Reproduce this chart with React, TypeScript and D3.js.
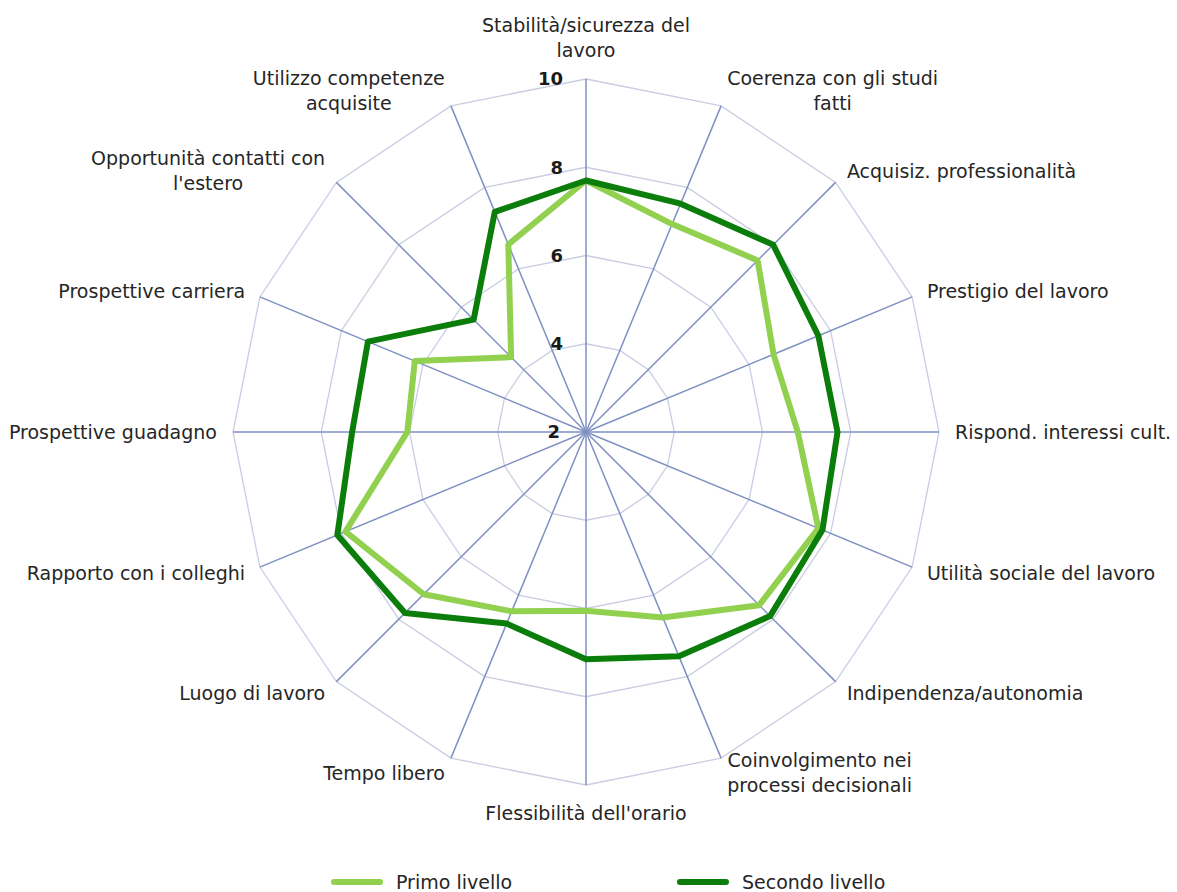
import { useRef, useEffect } from 'react';
import * as d3 from 'd3';

// axis labels, clockwise from the top (line breaks as in the original)
const categories: string[][] = [
  ['Stabilità/sicurezza del', 'lavoro'],
  ['Coerenza con gli studi', 'fatti'],
  ['Acquisiz. professionalità'],
  ['Prestigio del lavoro'],
  ['Rispond. interessi cult.'],
  ['Utilità sociale del lavoro'],
  ['Indipendenza/autonomia'],
  ['Coinvolgimento nei', 'processi decisionali'],
  ["Flessibilità dell'orario"],
  ['Tempo libero'],
  ['Luogo di lavoro'],
  ['Rapporto con i colleghi'],
  ['Prospettive guadagno'],
  ['Prospettive carriera'],
  ["Opportunità contatti con", "l'estero"],
  ['Utilizzo competenze', 'acquisite'],
];

const primoLivello = [7.7, 7.1, 7.5, 6.6, 6.8, 7.7, 7.55, 6.55, 6.05, 6.4, 7.2, 7.9, 6.05, 6.2, 4.4, 6.6];
const secondoLivello = [7.7, 7.6, 8.0, 7.7, 7.7, 7.8, 7.9, 7.5, 7.15, 6.7, 7.8, 8.1, 7.3, 7.35, 5.6, 7.4];

const ticks = [2, 4, 6, 8, 10];

const seriesNames = ['Primo livello', 'Secondo livello'];
const seriesColors = ['#92d050', '#0b7d0b'];

export default function App() {
  const ref = useRef<SVGSVGElement>(null);

  useEffect(() => {
    const svg = d3.select(ref.current);
    svg.selectAll('*').remove();

    const cx = 586, cy = 432, R = 353;
    const font = '"DejaVu Sans", Verdana, sans-serif';
    const fs = 19;
    const n = categories.length;

    const r = d3.scaleLinear().domain([2, 10]).range([0, R]);
    const ang = d3.scaleLinear().domain([0, n]).range([0, 2 * Math.PI]);

    const g = svg.append('g').attr('transform', `translate(${cx},${cy})`);

    // polygon rings
    ticks.filter(t => t > 2).forEach(t => {
      const pts = d3.range(n).map(i => [Math.sin(ang(i)) * r(t), -Math.cos(ang(i)) * r(t)]);
      g.append('polygon')
        .attr('points', pts.map(p => p.join(',')).join(' '))
        .attr('fill', 'none')
        .attr('stroke', '#c9cde2')
        .attr('stroke-width', 1.3);
    });

    // spokes
    d3.range(n).forEach(i => {
      g.append('line')
        .attr('x1', 0).attr('y1', 0)
        .attr('x2', Math.sin(ang(i)) * R)
        .attr('y2', -Math.cos(ang(i)) * R)
        .attr('stroke', '#7f90c2')
        .attr('stroke-width', 1.5);
    });

    // tick labels along the top spoke
    ticks.forEach(t => {
      g.append('text')
        .attr('x', t === 2 ? -26 : -23)
        .attr('y', -r(t))
        .attr('dy', '0.36em')
        .attr('text-anchor', 'end')
        .attr('font-family', font)
        .attr('font-size', 18)
        .attr('font-weight', 'bold')
        .attr('fill', '#1a1a1a')
        .text(t);
    });

    // series
    const line = d3.lineRadial<number>()
      .angle((_, i) => ang(i))
      .radius(d => r(d))
      .curve(d3.curveLinearClosed);
    [primoLivello, secondoLivello].forEach((vals, k) => {
      g.append('path')
        .datum(vals)
        .attr('d', line)
        .attr('fill', 'none')
        .attr('stroke', seriesColors[k])
        .attr('stroke-width', 6)
        .attr('stroke-linejoin', 'round');
    });

    // category labels
    const lh = 25;
    const gap = 16;
    categories.forEach((lines, i) => {
      const a = ang(i);
      const s = Math.sin(a), c = Math.cos(a);
      const ax = s * (R + gap), ay = -c * (R + gap);
      const blockH = lines.length * lh;
      let yc = ay;
      if (Math.abs(s) < 0.01) yc = c > 0 ? ay - blockH / 2 : ay + blockH / 2;
      const tg = g.append('g');
      const texts = lines.map((ln, j) => tg.append('text')
        .attr('y', yc - blockH / 2 + lh * j + lh / 2)
        .attr('dy', '0.36em')
        .attr('text-anchor', 'middle')
        .attr('font-family', font)
        .attr('font-size', fs)
        .attr('fill', '#262626')
        .text(ln));
      const bw = d3.max(texts, t => (t.node() as SVGTextElement).getComputedTextLength()) || 0;
      let bx = ax;
      if (s > 0.01) bx = ax + bw / 2;
      else if (s < -0.01) bx = ax - bw / 2;
      texts.forEach(t => t.attr('x', bx));
    });

    // legend
    const legX = [334, 680];
    seriesNames.forEach((name, k) => {
      svg.append('line')
        .attr('x1', legX[k]).attr('x2', legX[k] + 46)
        .attr('y1', 882).attr('y2', 882)
        .attr('stroke', seriesColors[k])
        .attr('stroke-width', 6)
        .attr('stroke-linecap', 'round');
      svg.append('text')
        .attr('x', legX[k] + 62)
        .attr('y', 882)
        .attr('dy', '0.36em')
        .attr('font-family', font)
        .attr('font-size', fs)
        .attr('fill', '#262626')
        .text(name);
    });
  }, []);

  return (
    <svg
      ref={ref}
      width={1177}
      height={892}
      style={{ position: 'absolute', left: 0, top: 0, background: '#fff' }}
    />
  );
}
